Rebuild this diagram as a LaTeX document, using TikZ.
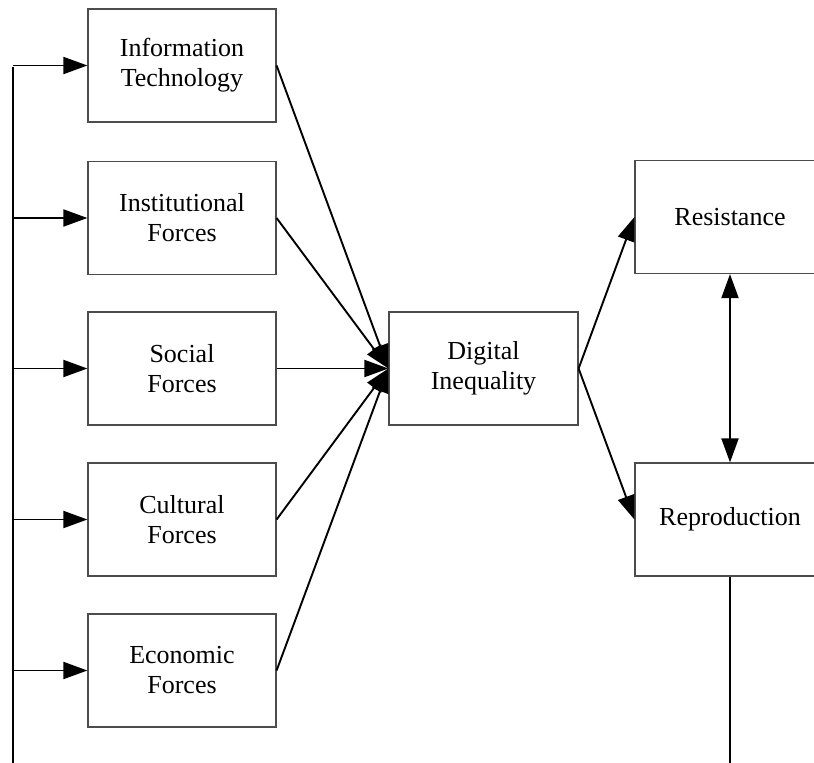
\documentclass[tikz,border=0pt]{standalone}
\usepackage{fontspec}
\setmainfont{Liberation Serif}
\usetikzlibrary{arrows.meta}
\begin{document}
\begin{tikzpicture}[x=1pt,y=-1pt,
  box/.style={draw=black!70, line width=1.2pt, minimum width=188pt, minimum height=113pt,
    align=center, inner sep=0pt, font=\fontsize{26}{30}\selectfont},
  link/.style={line width=1.9pt, -{Triangle[length=24pt,width=17pt]}},
  both/.style={line width=1.9pt, {Triangle[length=24pt,width=17pt]}-{Triangle[length=24pt,width=17pt]}},
  wire/.style={line width=1.9pt}]
\useasboundingbox (0,0) rectangle (814,763);
\clip (0,0) rectangle (814,763);

% driving forces
\node[box] (it)   at (182,65.5)  {Information\\Technology};
\node[box] (inst) at (182,218)   {Institutional\\Forces};
\node[box] (soc)  at (182,368.5) {Social\\Forces};
\node[box] (cult) at (182,519.5) {Cultural\\Forces};
\node[box] (econ) at (182,670.5) {Economic\\Forces};

% outcome and consequences
\node[box, minimum width=189pt] (dig) at (483.5,368.5) {Digital\\Inequality};
\node[box, minimum width=190pt] (res) at (730,217)   {Resistance};
\node[box, minimum width=190pt] (rep) at (730,519.5) {Reproduction};

% feedback trunk on the left
\coordinate (trunkTop) at (13,66.5);
\coordinate (trunkBot) at (13,763);
\coordinate (loopEnd) at (730,763);
\draw[wire] (trunkBot) -- (trunkTop);
\foreach \b in {it,inst,soc,cult,econ}
  \draw[link] (trunkTop |- \b.west) -- (\b.west);

% forces into digital inequality
\foreach \b in {it,inst,soc,cult,econ}
  \draw[link] (\b.east) -- (dig.west);

% digital inequality into consequences
\draw[link] (dig.east) -- (res.west);
\draw[link] (dig.east) -- (rep.west);
\draw[both] (res.south) -- (rep.north);
\draw[wire] (rep.south) -- (loopEnd);
\end{tikzpicture}
\end{document}
